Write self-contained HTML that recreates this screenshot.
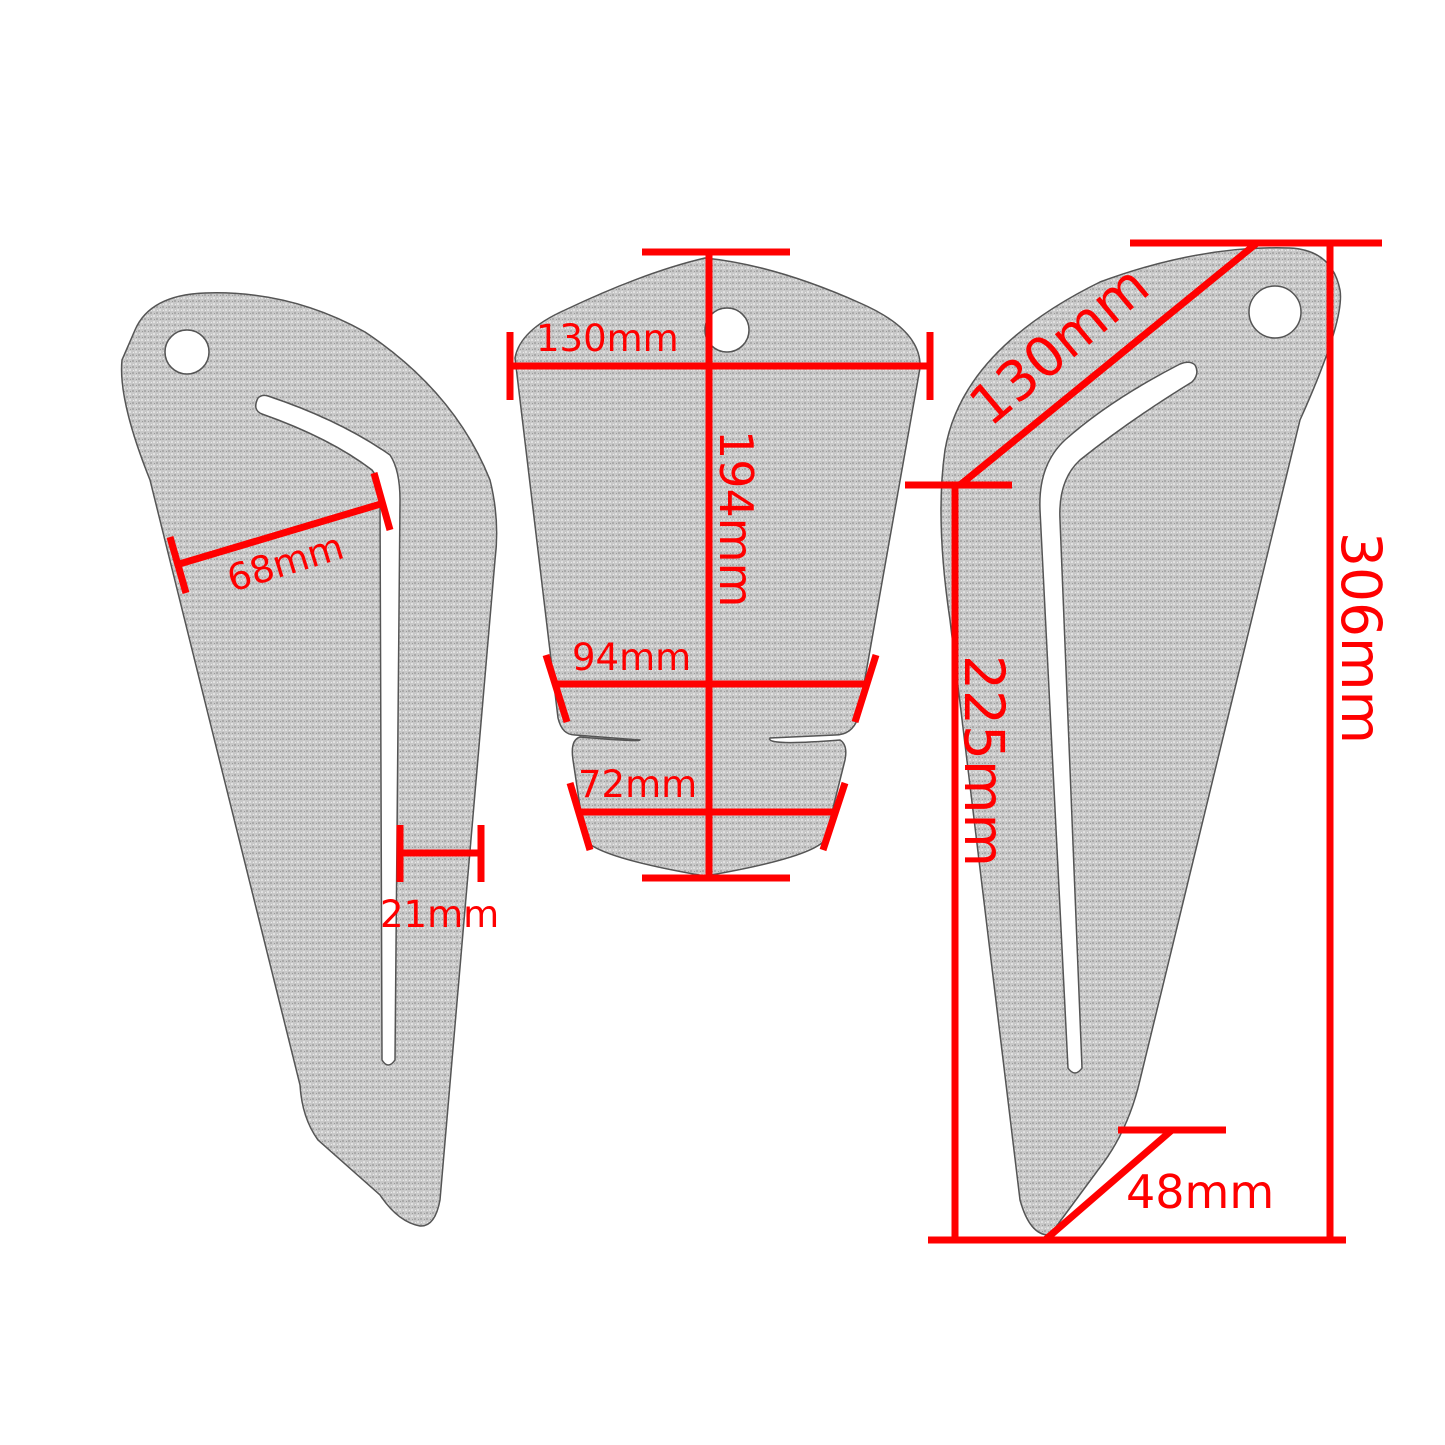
<!DOCTYPE html>
<html><head><meta charset="utf-8"><style>
html,body{margin:0;padding:0;background:#fff;}
svg{display:block;}
text{font-family:"DejaVu Sans","Liberation Sans",sans-serif;fill:#ff0000;}
</style></head><body>
<svg width="1445" height="1445" viewBox="0 0 1445 1445" xmlns="http://www.w3.org/2000/svg">
<defs>
<pattern id="grain" width="6" height="6" patternUnits="userSpaceOnUse">
<rect width="6" height="6" fill="#c8c8c8"/>
<rect x="0" y="0" width="2" height="2" fill="#aaaaaa"/>
<rect x="3" y="3" width="2" height="2" fill="#e0e0e0"/>
<rect x="4" y="1" width="1" height="1" fill="#9a9a9a"/>
<rect x="1" y="4" width="1" height="1" fill="#eaeaea"/>
</pattern>
</defs>
<g stroke="#555" stroke-width="1.5" fill="url(#grain)">
<path d="M135,330 Q150,295 205,293 Q290,290 365,332 Q455,392 490,480 Q500,520 495,560 L440,1200 Q435,1227 420,1226 Q398,1222 380,1195 L318,1140 Q302,1118 300,1085 L150,480 Q118,400 122,360 Z"/>
<path d="M515,358 Q520,330 565,310 Q645,272 705,258 Q775,265 860,303 Q922,330 920,368 L858,718 Q852,735 835,735 L770,738 Q765,746 840,740 Q848,745 845,760 L825,840 Q810,858 705,876 Q600,858 585,840 L573,760 Q570,740 580,737 Q640,742 640,740 L575,735 Q562,735 558,718 Z"/>
<path d="M1340,290 Q1332,250 1290,248 Q1200,245 1100,282 Q962,350 945,450 Q935,520 950,620 L1020,1200 Q1030,1236 1050,1235 L1098,1170 Q1128,1132 1140,1080 L1300,420 Q1345,320 1340,290 Z"/>
</g>
<g fill="#fff" stroke="#555" stroke-width="1.5">
<circle cx="187" cy="352" r="22"/>
<path d="M258,398 Q252,410 262,414 Q330,438 372,470 Q380,480 380,500 L382,1060 Q388,1070 395,1060 L400,500 Q400,470 390,455 Q340,420 268,396 Q262,394 258,398 Z"/>
<circle cx="727" cy="330" r="22"/>
<circle cx="1275" cy="312" r="26"/>
<path d="M1195,365 Q1190,360 1180,364 Q1110,400 1065,440 Q1038,465 1040,510 L1068,1068 Q1075,1078 1082,1068 L1060,520 Q1058,480 1080,460 Q1130,420 1192,382 Q1200,374 1195,365 Z"/>
</g>
<g stroke="#ff0000" stroke-width="7" fill="none">
<line x1="176" y1="565" x2="384" y2="503"/>
<line x1="170" y1="537" x2="186" y2="593"/>
<line x1="374" y1="473" x2="390" y2="530"/>
<line x1="400" y1="853" x2="481" y2="853"/>
<line x1="400" y1="825" x2="400" y2="882"/>
<line x1="481" y1="825" x2="481" y2="882"/>
<line x1="642" y1="252" x2="790" y2="252"/>
<line x1="642" y1="878" x2="790" y2="878"/>
<line x1="709" y1="252" x2="709" y2="878"/>
<line x1="510" y1="366" x2="930" y2="366"/>
<line x1="510" y1="332" x2="510" y2="400"/>
<line x1="930" y1="332" x2="930" y2="400"/>
<line x1="557" y1="684" x2="866" y2="684"/>
<line x1="546" y1="655" x2="567" y2="722"/>
<line x1="876" y1="655" x2="855" y2="722"/>
<line x1="580" y1="812" x2="834" y2="812"/>
<line x1="570" y1="783" x2="590" y2="850"/>
<line x1="845" y1="783" x2="823" y2="850"/>
<line x1="1130" y1="243" x2="1382" y2="243"/>
<line x1="1330" y1="243" x2="1330" y2="1240"/>
<line x1="928" y1="1240" x2="1346" y2="1240"/>
<line x1="955" y1="485" x2="955" y2="1240"/>
<line x1="905" y1="485" x2="1012" y2="485"/>
<line x1="960" y1="485" x2="1257" y2="243"/>
<line x1="1118" y1="1130" x2="1226" y2="1130"/>
<line x1="1172" y1="1130" x2="1045" y2="1240"/>
</g>
<g font-size="37">
<text x="232" y="592" transform="rotate(-17 232 592)">68mm</text>
<text x="380" y="927">21mm</text>
<text x="536" y="351">130mm</text>
<text x="572" y="670">94mm</text>
<text x="578" y="797">72mm</text>
<text x="1126" y="1208" font-size="46">48mm</text>
</g>
<text x="720" y="430" font-size="46" transform="rotate(90 720 430)">194mm</text>
<text x="1342" y="532" font-size="55" transform="rotate(90 1342 532)">306mm</text>
<text x="965" y="655" font-size="55" transform="rotate(90 965 655)">225mm</text>
<text x="990" y="428" font-size="55" transform="rotate(-40 990 428)">130mm</text>
</svg>
</body></html>
